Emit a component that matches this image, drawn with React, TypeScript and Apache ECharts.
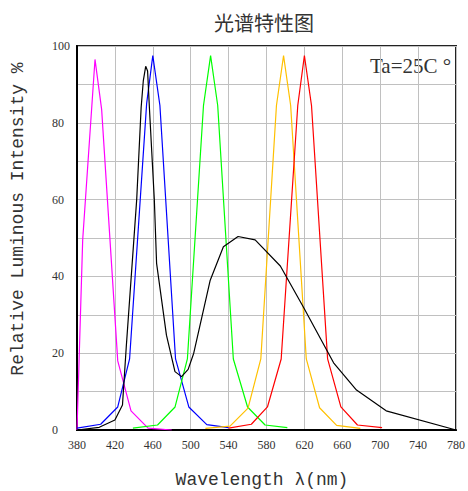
import React, { useEffect, useRef } from "react";
import * as echarts from "echarts";

const xTicks = [380, 420, 460, 500, 540, 580, 620, 660, 700, 740, 780];
const yTickLabels = [0, 20, 40, 60, 80, 100];

const magenta = [[380, 0], [386, 49.5], [399, 96.5], [406, 83.5], [423, 18], [437, 5], [455, 0.5], [480, 0]];
const blue = [[380, 0.5], [405, 1.5], [423, 6], [435.5, 18.5], [453.5, 85], [460, 97.5], [467.5, 84.5], [484, 18.5], [498, 6], [517, 1.4], [540, 0.6]];
const black = [[380, 0], [403.5, 0.7], [420, 2.6], [428, 6.5], [432, 21.7], [443, 60], [447.7, 84], [450, 91], [452.5, 94.7], [454.5, 93.5], [456.4, 84], [461.6, 60], [464, 43.4], [474.4, 24.7], [483.4, 15.2], [490.4, 13.9], [497.3, 15.8], [503.2, 20], [511.9, 29.5], [520.6, 39], [534.5, 47.7], [550, 50.4], [568, 49.5], [594.6, 42.7], [619.6, 31.7], [650.8, 17.5], [675, 10.4], [706.3, 5], [780, 0]];
const green = [[439, 0.5], [465, 1.3], [483.5, 6], [496.5, 18.5], [513.5, 84.5], [521, 97.5], [528.5, 84.5], [545, 18.5], [560, 6], [578.5, 1.3], [602, 0.6]];
const yellow = [[515.5, 0.4], [541.5, 1], [560.5, 5.7], [574, 18.5], [590.5, 84.5], [598, 97.5], [605.5, 84.5], [622, 18.5], [636, 5.8], [654, 1.2], [679, 0.4]];
const red = [[540, 0.5], [564, 1.5], [581, 6], [595.5, 18.5], [613, 84.5], [620, 97.5], [627.5, 84.5], [644.5, 18.5], [658.5, 6], [676, 1.3], [702, 0.6]];

const seriesDefs = [
  { name: "magenta", data: magenta, color: "#FF00FF" },
  { name: "blue", data: blue, color: "#0000FF" },
  { name: "green", data: green, color: "#00FF00" },
  { name: "yellow", data: yellow, color: "#FFC000" },
  { name: "red", data: red, color: "#FF0000" },
  { name: "black", data: black, color: "#000000" },
];

export default function App() {
  const ref = useRef<HTMLDivElement>(null);
  useEffect(() => {
    document.body.style.margin = "0";
    const chart = echarts.init(ref.current!, null, { renderer: "svg" });
    chart.setOption({
      animation: false,
      backgroundColor: "#fff",
      grid: {
        left: 77,
        top: 46,
        width: 384,
        height: 384,
        show: true,
        borderColor: "#222",
        borderWidth: 2,
        backgroundColor: "transparent",
      },
      xAxis: {
        type: "value",
        min: 380,
        max: 780,
        interval: 40,
        axisLine: { show: true, lineStyle: { color: "#000", width: 2 } },
        axisTick: { show: false },
        splitLine: { show: true, lineStyle: { color: "#c0c0c0", width: 1 } },
        axisLabel: {
          margin: 9,
          fontFamily: "Liberation Serif",
          fontSize: 12,
          color: "#333",
          formatter: (v: number) => (xTicks.includes(v) ? String(v) : ""),
        },
      },
      yAxis: {
        type: "value",
        min: 0,
        max: 100,
        interval: 10,
        axisLine: { show: true, lineStyle: { color: "#000", width: 2 } },
        axisTick: { show: false },
        splitLine: { show: true, lineStyle: { color: "#c0c0c0", width: 1 } },
        axisLabel: {
          margin: 25,
          align: "left",
          fontFamily: "Liberation Serif",
          fontSize: 12,
          color: "#333",
          formatter: (v: number) => (yTickLabels.includes(v) ? String(v) : ""),
        },
      },
      graphic: [
        {
          type: "text",
          x: 264,
          y: 22,
          style: {
            text: "光谱特性图",
            fontSize: 20,
            fontFamily: "Noto Sans CJK SC",
            fill: "#333",
            textAlign: "center",
            textVerticalAlign: "middle",
            align: "center",
            verticalAlign: "middle",
          },
        },
        {
          type: "text",
          x: 262,
          y: 480,
          style: {
            text: "Wavelength λ(nm)",
            fontSize: 18,
            fontFamily: "Liberation Mono",
            fill: "#333",
            textAlign: "center",
            textVerticalAlign: "middle",
            align: "center",
            verticalAlign: "middle",
          },
        },
        {
          type: "text",
          x: 18,
          y: 219,
          rotation: Math.PI / 2,
          style: {
            text: "Relative Luminous Intensity %",
            fontSize: 18,
            fontFamily: "Liberation Mono",
            fill: "#333",
            textAlign: "center",
            textVerticalAlign: "middle",
            align: "center",
            verticalAlign: "middle",
          },
        },
        {
          type: "text",
          x: 370,
          y: 66,
          style: {
            text: "Ta=25C °",
            fontSize: 21,
            fontFamily: "Liberation Serif",
            fill: "#333",
            textAlign: "left",
            textVerticalAlign: "middle",
            align: "left",
            verticalAlign: "middle",
          },
        },
      ],
      series: seriesDefs.map((s) => ({
        name: s.name,
        type: "line",
        data: s.data,
        showSymbol: false,
        symbol: "none",
        lineStyle: { color: s.color, width: 1.2 },
        itemStyle: { color: s.color },
      })),
    });
    return () => chart.dispose();
  }, []);
  return <div ref={ref} style={{ width: 468, height: 491 }} />;
}
